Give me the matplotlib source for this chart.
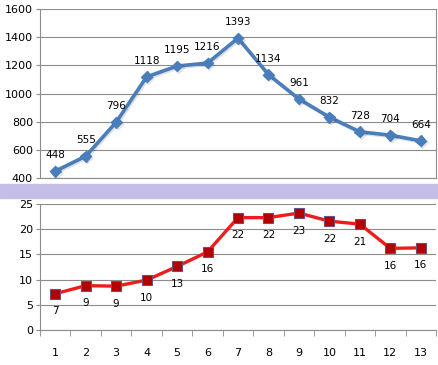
import matplotlib
import matplotlib.pyplot as plt
import matplotlib.patheffects as pe
from matplotlib.patches import Rectangle

matplotlib.use('Agg')

categories = list(range(1, 13 + 1))
top_values = [448, 555, 796, 1118, 1195, 1216, 1393, 1134, 961, 832, 728, 704, 664]
bottom_values = [7.2, 8.8, 8.7, 9.9, 12.6, 15.5, 22.3, 22.3, 23.2, 21.6, 21.0, 16.2, 16.3]
bottom_labels = [7, 9, 9, 10, 13, 16, 22, 22, 23, 22, 21, 16, 16]
top_ticks = [400, 600, 800, 1000, 1200, 1400, 1600]
bottom_ticks = [0, 5, 10, 15, 20, 25]

W, H = 439, 365
fig = plt.figure(figsize=(W / 100, H / 100), dpi=100)
plt.rcParams['font.family'] = ['DejaVu Sans']

grid_c = '#8c8c8c'
x0, x1 = 40 / W, 436 / W

# top panel
ax1 = fig.add_axes([x0, 1 - 178 / H, x1 - x0, (178 - 9) / H])
ax1.plot(categories, top_values, color='#4a7ebb', lw=2.6, marker='D', ms=5.5,
         mec='#4a7ebb', mfc='#4a7ebb',
         path_effects=[pe.SimpleLineShadow(offset=(1, -1), alpha=0.12), pe.Normal()])
for x, v in zip(categories, top_values):
    ax1.annotate(str(v), (x, v), xytext=(0, 8), textcoords='offset points',
                 ha='center', va='bottom', fontsize=7.5, color='black')
ax1.set_xlim(0.5, 13.5)
ax1.set_ylim(400, 1600)
ax1.set_yticks(top_ticks)
ax1.set_xticks([])
ax1.grid(axis='y', color=grid_c, lw=0.8)
ax1.set_axisbelow(True)
for s in ['left', 'right', 'bottom']:
    ax1.spines[s].set_color(grid_c)
ax1.spines['top'].set_visible(False)
ax1.tick_params(axis='y', labelsize=8, length=3, color=grid_c, pad=2)

# purple break band
fig.patches.append(Rectangle((0, 1 - 198 / H), 1, 14 / H, transform=fig.transFigure,
                             color='#c4bfe6', zorder=0))

# bottom panel
ax2 = fig.add_axes([x0, 1 - 330 / H, x1 - x0, (330 - 204) / H])
ax2.plot(categories, bottom_values, color='#ee1c1c', lw=2.4, marker='s', ms=7,
         mfc='#b30000', mec='#6e4f7a', mew=0.8)
for x, v, lab in zip(categories, bottom_values, bottom_labels):
    ax2.annotate(str(lab), (x, v), xytext=(0, -9), textcoords='offset points',
                 ha='center', va='top', fontsize=7.5, color='black')
ax2.set_xlim(0.5, 13.5)
ax2.set_ylim(0, 25)
ax2.set_yticks(bottom_ticks)
ax2.set_xticks(categories)
ax2.set_xticks([c + 0.5 for c in [0] + categories], minor=True)
ax2.grid(axis='y', color=grid_c, lw=0.8)
ax2.set_axisbelow(True)
ax2.spines['top'].set_visible(False)
ax2.spines['right'].set_visible(False)
ax2.spines['left'].set_color(grid_c)
ax2.spines['bottom'].set_color(grid_c)
ax2.tick_params(axis='y', labelsize=8, length=3, color=grid_c, pad=2)
ax2.tick_params(axis='x', which='major', labelsize=8, length=0, pad=13)
ax2.tick_params(axis='x', which='minor', length=4, color=grid_c)

fig.savefig('out.png', dpi=100)
